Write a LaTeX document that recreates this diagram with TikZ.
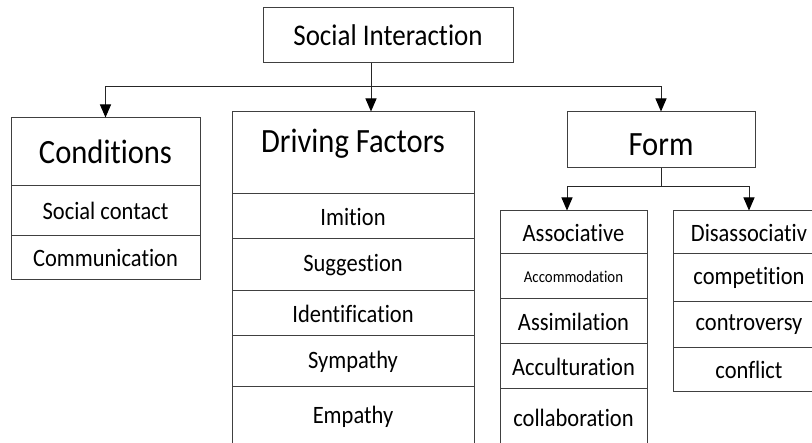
\documentclass[tikz,border=0pt]{standalone}
\usepackage{fontspec}
\setmainfont{Carlito}[Ligatures=NoCommon,FakeStretch=0.9]
\usetikzlibrary{arrows.meta}
\begin{document}
\begin{tikzpicture}[x=1pt,y=-1pt,
    cell/.style={draw=black!75,line width=1pt,inner sep=0pt,align=center},
    big/.style={font=\fontsize{34}{34}\selectfont},
    item/.style={font=\fontsize{25}{25}\selectfont},
    arr/.style={draw=black!85,line width=1pt,-{Triangle[length=13pt,width=11pt,color=black]}}]
    % frame
    \useasboundingbox (0,0) rectangle (812,443);
    \clip (0,0) rectangle (812,443);
    % root
    \node[cell,minimum width=250pt,minimum height=55pt,font=\fontsize{30}{30}\selectfont] (social) at (388,35.5) {Social Interaction};
    % conditions
    \node[cell,big,minimum width=189pt,minimum height=68pt] (cond) at (105.5,152) {Conditions};
    \node[cell,item,minimum width=189pt,minimum height=50pt] (cond1) at (105.5,211) {Social contact};
    \node[cell,item,minimum width=189pt,minimum height=44pt] (cond2) at (105.5,258) {Communication};
    % driving factors
    \node[cell,big,minimum width=242pt,minimum height=82pt,text depth=24pt] (drv) at (353,153) {Driving Factors};
    \node[cell,item,minimum width=242pt,minimum height=45pt] (drv1) at (353,216.5) {Imition};
    \node[cell,item,minimum width=242pt,minimum height=52pt] (drv2) at (353,265) {Suggestion};
    \node[cell,item,minimum width=242pt,minimum height=45pt] (drv3) at (353,313.5) {Identification};
    \node[cell,item,minimum width=242pt,minimum height=51pt] (drv4) at (353,361.5) {Sympathy};
    \node[cell,item,minimum width=242pt,minimum height=60pt] (drv5) at (353,417) {Empathy};
    % form
    \node[cell,big,minimum width=188pt,minimum height=56pt,text height=32pt] (form) at (661,140) {Form};
    % associative
    \node[cell,item,minimum width=147pt,minimum height=43pt] (asc) at (573.5,232.5) {Associative};
    \node[cell,minimum width=147pt,minimum height=45pt,font=\fontsize{16.5}{16.5}\selectfont] (asc1) at (573.5,276.5) {Accommodation};
    \node[cell,item,minimum width=147pt,minimum height=45pt] (asc2) at (573.5,321.5) {Assimilation};
    \node[cell,item,minimum width=147pt,minimum height=45pt] (asc3) at (573.5,366.5) {Acculturation};
    \node[cell,item,minimum width=147pt,minimum height=58pt] (asc4) at (573.5,418) {collaboration};
    % disassociative
    \node[cell,item,minimum width=152pt,minimum height=43pt] (dis) at (749,232.5) {Disassociativ};
    \node[cell,item,minimum width=152pt,minimum height=48pt] (dis1) at (749,278) {competition};
    \node[cell,item,minimum width=152pt,minimum height=46pt] (dis2) at (749,325) {controversy};
    \node[cell,item,minimum width=152pt,minimum height=44pt] (dis3) at (749,370) {conflict};
    % connectors
    \coordinate (split) at (371,87);
    \coordinate (fork) at (661,187);
    \draw[draw=black!85,line width=1pt] (social.south -| split) -- (split);
    \draw[arr] (split) -- (drv.north -| split);
    \draw[arr] (split) -| (cond.north);
    \draw[arr] (split) -| (form.north);
    \draw[draw=black!85,line width=1pt] (form.south) -- (fork);
    \draw[arr] (fork) -| ([xshift=-6.5pt]asc.north);
    \draw[arr] (fork) -| (dis.north);
\end{tikzpicture}
\end{document}
